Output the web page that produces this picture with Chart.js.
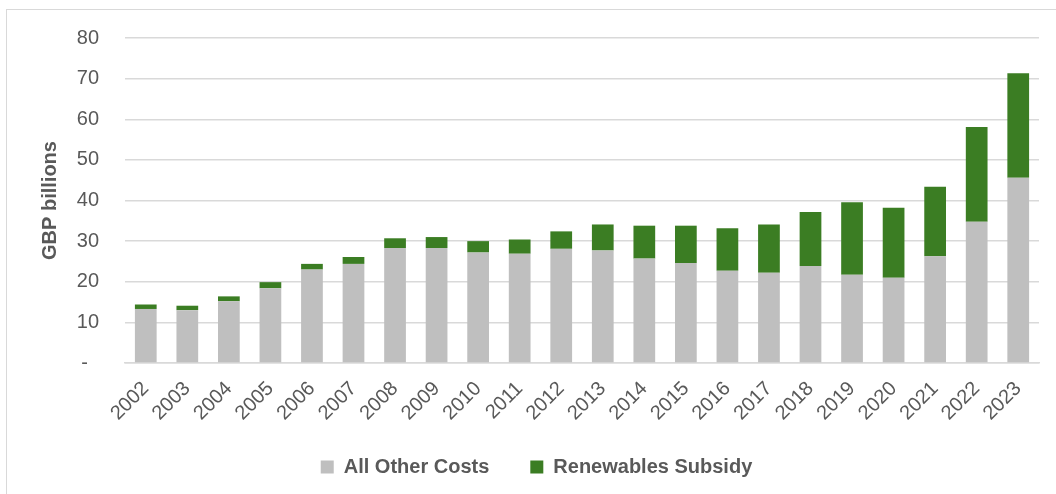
<!DOCTYPE html>
<html>
<head>
<meta charset="utf-8">
<script src="https://cdn.jsdelivr.net/npm/chart.js@4.4.1/dist/chart.umd.min.js"></script>
<style>
    html, body { margin: 0; padding: 0; background: #fff; overflow: hidden; }
    #wrap { position: relative; width: 1056px; height: 494px; }
    #frame {
        position: absolute; left: 6px; top: 9px; width: 1200px; height: 600px;
        border: 1px solid #d9d9d9; pointer-events: none;
    }
    canvas { position: absolute; left: 0; top: 0; }
</style>
</head>
<body>
<div id="wrap">
    <canvas id="chart" width="1056" height="494"></canvas>
    <div id="frame"></div>
</div>
<script>
    'use strict';

    // =========================================================================
    // Data (GBP billions)
    // =========================================================================

    var years = ['2002', '2003', '2004', '2005', '2006', '2007', '2008', '2009',
        '2010', '2011', '2012', '2013', '2014', '2015', '2016', '2017', '2018',
        '2019', '2020', '2021', '2022', '2023'];

    var otherCosts = [13.3, 13.0, 15.2, 18.4, 23.0, 24.4, 28.3, 28.3, 27.2, 26.9,
        28.1, 27.7, 25.7, 24.6, 22.7, 22.2, 23.9, 21.7, 21.0, 26.3, 34.8, 45.6];

    var renewablesSubsidy = [1.1, 1.1, 1.2, 1.5, 1.4, 1.7, 2.4, 2.7, 2.8, 3.5,
        4.3, 6.4, 8.1, 9.2, 10.5, 11.9, 13.3, 17.9, 17.2, 17.1, 23.3, 25.7];

    var seriesNames = ['All Other Costs', 'Renewables Subsidy'];
    var yTicks = [0, 10, 20, 30, 40, 50, 60, 70, 80];

    var textColor = '#595959';
    var gridColor = '#d9d9d9';
    var fontFamily = "'Liberation Sans', Arial, sans-serif";

    // Spread legend items apart horizontally without making the box huge
    var legendSpacing = {
        id: 'legendSpacing',
        beforeInit: function (chart) {
            var fit = chart.legend.fit;
            chart.legend.fit = function () {
                fit.bind(chart.legend)();
                this.height = 78;
            };
        }
    };

    new Chart(document.getElementById('chart'), {
        type: 'bar',
        data: {
            labels: years,
            datasets: [{
                label: seriesNames[0],
                data: otherCosts,
                backgroundColor: '#bfbfbf',
                borderWidth: 0
            }, {
                label: seriesNames[1],
                data: renewablesSubsidy,
                backgroundColor: '#3b7d23',
                borderWidth: 0
            }]
        },
        options: {
            responsive: false,
            animation: false,
            layout: {
                padding: { top: 33, right: 17, left: 34, bottom: 0 }
            },
            datasets: {
                bar: { categoryPercentage: 1, barPercentage: 0.523 }
            },
            plugins: {
                legend: {
                    position: 'bottom',
                    labels: {
                        boxWidth: 13,
                        boxHeight: 13,
                        padding: 41,
                        color: textColor,
                        font: { family: fontFamily, size: 20, weight: 'bold' }
                    }
                },
                tooltip: { enabled: false }
            },
            scales: {
                x: {
                    stacked: true,
                    afterFit: function (scale) {
                        scale.height = 53;
                        // rotated year labels run past the short axis box; don't clip them
                        scale._computeLabelArea = function () { return undefined; };
                    },
                    grid: { display: false, drawTicks: false },
                    border: { color: gridColor, width: 1.5 },
                    ticks: {
                        minRotation: 45,
                        maxRotation: 45,
                        padding: 14,
                        color: textColor,
                        font: { family: fontFamily, size: 20 }
                    }
                },
                y: {
                    stacked: true,
                    min: 0,
                    max: 80,
                    afterFit: function (scale) { scale.width = 91; },
                    afterBuildTicks: function (scale) {
                        scale.ticks = yTicks.map(function (v) { return { value: v }; });
                    },
                    grid: { color: gridColor, lineWidth: 1.5, drawTicks: false },
                    border: { display: false },
                    ticks: {
                        padding: 26,
                        color: textColor,
                        font: { family: fontFamily, size: 20 },
                        callback: function (v) { return v === 0 ? '-  ' : v; }
                    },
                    title: {
                        display: true,
                        text: 'GBP billions',
                        color: textColor,
                        padding: { top: 4 },
                        font: { family: fontFamily, size: 20, weight: 'bold' }
                    }
                }
            }
        },
        plugins: [legendSpacing]
    });
</script>
</body>
</html>
